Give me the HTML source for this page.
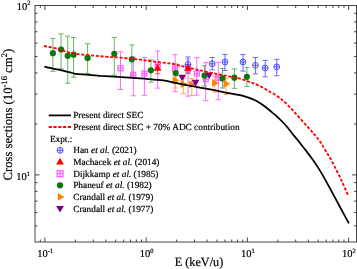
<!DOCTYPE html>
<html><head><meta charset="utf-8"><style>
html,body{margin:0;padding:0;background:#fff;}
body{width:357px;height:269px;overflow:hidden;}
text{stroke:#000;stroke-width:0.2px;}
svg{display:block;font-family:"Liberation Serif", serif;-webkit-font-smoothing:antialiased;text-rendering:geometricPrecision;}
.wrap{will-change:transform;transform:translateZ(0);}
</style></head><body>
<div class="wrap"><svg width="357" height="269" viewBox="0 0 357 269" font-family='"Liberation Serif", serif'>
<path d="M40.30 242.0v-2.5M40.30 5.5v2.5M44.93 242.0v-4.5M44.93 5.5v4.5M75.40 242.0v-2.5M75.40 5.5v2.5M93.23 242.0v-2.5M93.23 5.5v2.5M105.88 242.0v-2.5M105.88 5.5v2.5M115.69 242.0v-2.5M115.69 5.5v2.5M123.70 242.0v-2.5M123.70 5.5v2.5M130.48 242.0v-2.5M130.48 5.5v2.5M136.35 242.0v-2.5M136.35 5.5v2.5M141.53 242.0v-2.5M141.53 5.5v2.5M146.16 242.0v-4.5M146.16 5.5v4.5M176.63 242.0v-2.5M176.63 5.5v2.5M194.46 242.0v-2.5M194.46 5.5v2.5M207.11 242.0v-2.5M207.11 5.5v2.5M216.92 242.0v-2.5M216.92 5.5v2.5M224.93 242.0v-2.5M224.93 5.5v2.5M231.71 242.0v-2.5M231.71 5.5v2.5M237.58 242.0v-2.5M237.58 5.5v2.5M242.76 242.0v-2.5M242.76 5.5v2.5M247.39 242.0v-4.5M247.39 5.5v4.5M277.86 242.0v-2.5M277.86 5.5v2.5M295.69 242.0v-2.5M295.69 5.5v2.5M308.34 242.0v-2.5M308.34 5.5v2.5M318.15 242.0v-2.5M318.15 5.5v2.5M326.16 242.0v-2.5M326.16 5.5v2.5M332.94 242.0v-2.5M332.94 5.5v2.5M338.81 242.0v-2.5M338.81 5.5v2.5M343.99 242.0v-2.5M343.99 5.5v2.5M348.62 242.0v-4.5M348.62 5.5v4.5M35.0 225.89h2.5M356.5 225.89h-2.5M35.0 212.48h2.5M356.5 212.48h-2.5M35.0 201.14h2.5M356.5 201.14h-2.5M35.0 191.32h2.5M356.5 191.32h-2.5M35.0 182.65h2.5M356.5 182.65h-2.5M35.0 174.90h4.5M356.5 174.90h-4.5M35.0 123.91h2.5M356.5 123.91h-2.5M35.0 94.08h2.5M356.5 94.08h-2.5M35.0 72.91h2.5M356.5 72.91h-2.5M35.0 56.49h2.5M356.5 56.49h-2.5M35.0 43.08h2.5M356.5 43.08h-2.5M35.0 31.74h2.5M356.5 31.74h-2.5M35.0 21.92h2.5M356.5 21.92h-2.5M35.0 13.25h2.5M356.5 13.25h-2.5" stroke="#444" stroke-width="1" fill="none"/>
<rect x="35.0" y="5.5" width="321.5" height="236.5" fill="none" stroke="#444" stroke-width="1"/>
<path d="M52.9 38.4V71.3M50.3 38.4h5.2M50.3 71.3h5.2" stroke="#62b862" stroke-width="1" fill="none"/>
<path d="M61.1 33.9V68.8M58.5 33.9h5.2M58.5 68.8h5.2" stroke="#62b862" stroke-width="1" fill="none"/>
<path d="M67.7 36.2V83.2M65.1 36.2h5.2M65.1 83.2h5.2" stroke="#62b862" stroke-width="1" fill="none"/>
<path d="M73.6 37.5V77.2M71.0 37.5h5.2M71.0 77.2h5.2" stroke="#62b862" stroke-width="1" fill="none"/>
<path d="M87.6 43.8V73.5M85.0 43.8h5.2M85.0 73.5h5.2" stroke="#62b862" stroke-width="1" fill="none"/>
<path d="M114.3 37.4V75.2M111.7 37.4h5.2M111.7 75.2h5.2" stroke="#62b862" stroke-width="1" fill="none"/>
<path d="M131.9 44.9V76.8M129.3 44.9h5.2M129.3 76.8h5.2" stroke="#62b862" stroke-width="1" fill="none"/>
<path d="M150.9 59.9V82.2M148.3 59.9h5.2M148.3 82.2h5.2" stroke="#62b862" stroke-width="1" fill="none"/>
<path d="M175.7 64.0V82.5M173.1 64.0h5.2M173.1 82.5h5.2" stroke="#62b862" stroke-width="1" fill="none"/>
<path d="M204.5 65.7V86.0M201.9 65.7h5.2M201.9 86.0h5.2" stroke="#62b862" stroke-width="1" fill="none"/>
<path d="M222.5 68.5V88.0M219.9 68.5h5.2M219.9 88.0h5.2" stroke="#62b862" stroke-width="1" fill="none"/>
<path d="M234.4 68.9V88.3M231.8 68.9h5.2M231.8 88.3h5.2" stroke="#62b862" stroke-width="1" fill="none"/>
<path d="M246.9 67.5V86.5M244.3 67.5h5.2M244.3 86.5h5.2" stroke="#62b862" stroke-width="1" fill="none"/>
<path d="M120.5 51.9V89.5M117.9 51.9h5.2M117.9 89.5h5.2" stroke="#ff6aff" stroke-width="1" fill="none"/>
<path d="M133.3 57.0V95.8M130.7 57.0h5.2M130.7 95.8h5.2" stroke="#ff6aff" stroke-width="1" fill="none"/>
<path d="M144.4 57.4V95.3M141.8 57.4h5.2M141.8 95.3h5.2" stroke="#ff6aff" stroke-width="1" fill="none"/>
<path d="M157.7 51.0V88.1M155.1 51.0h5.2M155.1 88.1h5.2" stroke="#ff6aff" stroke-width="1" fill="none"/>
<path d="M175.1 54.7V91.7M172.5 54.7h5.2M172.5 91.7h5.2" stroke="#ff6aff" stroke-width="1" fill="none"/>
<path d="M188.0 59.0V96.1M185.4 59.0h5.2M185.4 96.1h5.2" stroke="#ff6aff" stroke-width="1" fill="none"/>
<path d="M196.8 57.6V95.2M194.2 57.6h5.2M194.2 95.2h5.2" stroke="#ff6aff" stroke-width="1" fill="none"/>
<path d="M205.7 62.6V100.6M203.1 62.6h5.2M203.1 100.6h5.2" stroke="#ff6aff" stroke-width="1" fill="none"/>
<path d="M218.3 62.3V99.7M215.7 62.3h5.2M215.7 99.7h5.2" stroke="#ff6aff" stroke-width="1" fill="none"/>
<path d="M175.3 76.0V88.0M172.7 76.0h5.2M172.7 88.0h5.2" stroke="#ffad5c" stroke-width="1" fill="none"/>
<path d="M183.4 78.0V93.8M180.8 78.0h5.2M180.8 93.8h5.2" stroke="#ffad5c" stroke-width="1" fill="none"/>
<path d="M191.8 78.5V95.5M189.2 78.5h5.2M189.2 95.5h5.2" stroke="#ffad5c" stroke-width="1" fill="none"/>
<path d="M214.8 76.4V92.0M212.2 76.4h5.2M212.2 92.0h5.2" stroke="#ffad5c" stroke-width="1" fill="none"/>
<path d="M226.2 78.6V94.5M223.6 78.6h5.2M223.6 94.5h5.2" stroke="#ffad5c" stroke-width="1" fill="none"/>
<path d="M188.0 57.0V72.2M185.4 57.0h5.2M185.4 72.2h5.2" stroke="#6a6aff" stroke-width="1" fill="none"/>
<path d="M212.2 57.5V69.9M209.6 57.5h5.2M209.6 69.9h5.2" stroke="#6a6aff" stroke-width="1" fill="none"/>
<path d="M225.0 54.4V70.5M222.4 54.4h5.2M222.4 70.5h5.2" stroke="#6a6aff" stroke-width="1" fill="none"/>
<path d="M243.0 54.6V71.1M240.4 54.6h5.2M240.4 71.1h5.2" stroke="#6a6aff" stroke-width="1" fill="none"/>
<path d="M255.4 57.5V73.9M252.8 57.5h5.2M252.8 73.9h5.2" stroke="#6a6aff" stroke-width="1" fill="none"/>
<path d="M265.2 60.4V76.9M262.6 60.4h5.2M262.6 76.9h5.2" stroke="#6a6aff" stroke-width="1" fill="none"/>
<path d="M276.8 59.3V75.7M274.2 59.3h5.2M274.2 75.7h5.2" stroke="#6a6aff" stroke-width="1" fill="none"/>
<path d="M157.6 64.5V73.7M155.0 64.5h5.2M155.0 73.7h5.2" stroke="#ff5050" stroke-width="1" fill="none"/>
<path d="M188.0 66.0V73.4M185.4 66.0h5.2M185.4 73.4h5.2" stroke="#ff5050" stroke-width="1" fill="none"/>
<g stroke="#ff50ff" fill="none" stroke-width="1.1"><rect x="118.0" y="65.8" width="5.0" height="5.0"/><path d="M118.0 68.3h5.0M120.5 65.8v5.0"/></g>
<g stroke="#ff50ff" fill="none" stroke-width="1.1"><rect x="130.8" y="72.2" width="5.0" height="5.0"/><path d="M130.8 74.7h5.0M133.3 72.2v5.0"/></g>
<g stroke="#ff50ff" fill="none" stroke-width="1.1"><rect x="141.9" y="71.1" width="5.0" height="5.0"/><path d="M141.9 73.6h5.0M144.4 71.1v5.0"/></g>
<g stroke="#ff50ff" fill="none" stroke-width="1.1"><rect x="155.2" y="62.9" width="5.0" height="5.0"/><path d="M155.2 65.4h5.0M157.7 62.9v5.0"/></g>
<g stroke="#ff50ff" fill="none" stroke-width="1.1"><rect x="172.6" y="66.3" width="5.0" height="5.0"/><path d="M172.6 68.8h5.0M175.1 66.3v5.0"/></g>
<g stroke="#ff50ff" fill="none" stroke-width="1.1"><rect x="185.5" y="66.1" width="5.0" height="5.0"/><path d="M185.5 68.6h5.0M188.0 66.1v5.0"/></g>
<g stroke="#ff50ff" fill="none" stroke-width="1.1"><rect x="194.3" y="71.0" width="5.0" height="5.0"/><path d="M194.3 73.5h5.0M196.8 71.0v5.0"/></g>
<g stroke="#ff50ff" fill="none" stroke-width="1.1"><rect x="203.2" y="76.8" width="5.0" height="5.0"/><path d="M203.2 79.3h5.0M205.7 76.8v5.0"/></g>
<g stroke="#ff50ff" fill="none" stroke-width="1.1"><rect x="215.8" y="75.3" width="5.0" height="5.0"/><path d="M215.8 77.8h5.0M218.3 75.3v5.0"/></g>
<circle cx="52.9" cy="53.2" r="3.1" fill="#0a780a"/>
<circle cx="61.1" cy="49.5" r="3.1" fill="#0a780a"/>
<circle cx="67.7" cy="55.8" r="3.1" fill="#0a780a"/>
<circle cx="73.6" cy="54.7" r="3.1" fill="#0a780a"/>
<circle cx="87.6" cy="57.9" r="3.1" fill="#0a780a"/>
<circle cx="114.3" cy="53.8" r="3.1" fill="#0a780a"/>
<circle cx="131.9" cy="59.3" r="3.1" fill="#0a780a"/>
<circle cx="150.9" cy="70.3" r="3.1" fill="#0a780a"/>
<circle cx="175.7" cy="73.1" r="3.1" fill="#0a780a"/>
<circle cx="204.5" cy="75.5" r="3.1" fill="#0a780a"/>
<circle cx="222.5" cy="78.4" r="3.1" fill="#0a780a"/>
<circle cx="234.4" cy="77.7" r="3.1" fill="#0a780a"/>
<circle cx="246.9" cy="76.8" r="3.1" fill="#0a780a"/>
<g stroke="#5050ff" fill="none" stroke-width="1"><circle cx="188.0" cy="64.4" r="2.9"/><path d="M185.1 64.4h5.8M188.0 61.5v5.8"/></g>
<g stroke="#5050ff" fill="none" stroke-width="1"><circle cx="212.2" cy="63.8" r="2.9"/><path d="M209.3 63.8h5.8M212.2 60.9v5.8"/></g>
<g stroke="#5050ff" fill="none" stroke-width="1"><circle cx="225.0" cy="62.0" r="2.9"/><path d="M222.1 62.0h5.8M225.0 59.1v5.8"/></g>
<g stroke="#5050ff" fill="none" stroke-width="1"><circle cx="243.0" cy="62.0" r="2.9"/><path d="M240.1 62.0h5.8M243.0 59.1v5.8"/></g>
<g stroke="#5050ff" fill="none" stroke-width="1"><circle cx="255.4" cy="65.3" r="2.9"/><path d="M252.5 65.3h5.8M255.4 62.4v5.8"/></g>
<g stroke="#5050ff" fill="none" stroke-width="1"><circle cx="265.2" cy="68.0" r="2.9"/><path d="M262.3 68.0h5.8M265.2 65.1v5.8"/></g>
<g stroke="#5050ff" fill="none" stroke-width="1"><circle cx="276.8" cy="66.8" r="2.9"/><path d="M273.9 66.8h5.8M276.8 63.9v5.8"/></g>
<path d="M172.6 76.4L179.3 80.3L172.6 84.2Z" fill="#ff8000"/>
<path d="M180.7 80.3L187.4 84.2L180.7 88.1Z" fill="#ff8000"/>
<path d="M189.1 80.5L195.8 84.4L189.1 88.3Z" fill="#ff8000"/>
<path d="M212.1 79.1L218.8 83.0L212.1 86.9Z" fill="#ff8000"/>
<path d="M223.5 79.9L230.2 83.8L223.5 87.7Z" fill="#ff8000"/>
<path d="M178.3 74.7H186.1L182.2 81.3Z" fill="#800080"/>
<path d="M191.6 79.8H199.4L195.5 86.4Z" fill="#800080"/>
<path d="M205.3 72.5H213.1L209.2 79.1Z" fill="#800080"/>
<path d="M157.6 64.0L161.5 70.7H153.7Z" fill="#ff0000"/>
<path d="M188.0 64.1L191.9 70.8H184.1Z" fill="#ff0000"/>
<path d="M44.40 66.70C46.80 67.20 54.15 68.65 58.80 69.70C63.45 70.75 69.50 72.32 72.30 73.00C75.10 73.68 72.82 73.50 75.60 73.80C78.38 74.10 84.60 74.43 89.00 74.80C93.40 75.17 98.50 75.75 102.00 76.00C105.50 76.25 103.67 75.90 110.00 76.30C116.33 76.70 133.33 77.92 140.00 78.40C146.67 78.88 145.83 78.83 150.00 79.20C154.17 79.57 161.00 80.03 165.00 80.60C169.00 81.17 170.67 81.90 174.00 82.60C177.33 83.30 181.50 84.12 185.00 84.80C188.50 85.48 190.53 85.88 195.00 86.70C199.47 87.52 206.20 88.63 211.80 89.70C217.40 90.77 223.90 92.20 228.60 93.10C233.30 94.00 237.33 94.57 240.00 95.10C242.67 95.63 243.05 95.83 244.60 96.30C246.15 96.77 247.75 97.32 249.30 97.90C250.85 98.48 252.35 99.08 253.90 99.80C255.45 100.52 257.05 101.28 258.60 102.20C260.15 103.12 261.63 104.17 263.20 105.30C264.77 106.43 266.53 107.83 268.00 109.00C269.47 110.17 270.67 111.20 272.00 112.30C273.33 113.40 274.40 114.15 276.00 115.60C277.60 117.05 279.73 119.10 281.60 121.00C283.47 122.90 285.47 124.97 287.20 127.00C288.93 129.03 290.30 131.08 292.00 133.20C293.70 135.32 295.25 137.02 297.40 139.70C299.55 142.38 302.42 146.08 304.90 149.30C307.38 152.52 310.07 155.90 312.30 159.00C314.53 162.10 316.55 165.17 318.30 167.90C320.05 170.63 320.75 171.80 322.80 175.40C324.85 179.00 328.00 184.73 330.60 189.50C333.20 194.27 335.35 198.35 338.40 204.00C341.45 209.65 347.15 220.17 348.90 223.40" fill="none" stroke="#000" stroke-width="1.75" stroke-linejoin="round"/>
<path d="M44.00 46.00C46.00 46.40 52.77 47.58 56.00 48.40C59.23 49.22 59.93 49.98 63.40 50.90C66.87 51.82 71.77 53.12 76.80 53.90C81.83 54.68 88.57 55.12 93.60 55.60C98.63 56.08 102.60 56.47 107.00 56.80C111.40 57.13 114.50 57.13 120.00 57.60C125.50 58.07 135.00 59.03 140.00 59.60C145.00 60.17 146.57 60.55 150.00 61.00C153.43 61.45 157.25 61.90 160.60 62.30C163.95 62.70 167.03 62.90 170.10 63.40C173.17 63.90 176.58 64.73 179.00 65.30C181.42 65.87 181.60 66.08 184.60 66.80C187.60 67.52 194.20 68.97 197.00 69.60C199.80 70.23 198.57 69.97 201.40 70.60C204.23 71.23 209.57 72.47 214.00 73.40C218.43 74.33 223.67 75.32 228.00 76.20C232.33 77.08 236.13 77.65 240.00 78.70C243.87 79.75 248.40 81.52 251.20 82.50C254.00 83.48 254.93 83.78 256.80 84.60C258.67 85.42 260.53 86.38 262.40 87.40C264.27 88.42 266.13 89.63 268.00 90.70C269.87 91.77 271.73 92.67 273.60 93.80C275.47 94.93 277.57 96.32 279.20 97.50C280.83 98.68 281.32 98.95 283.40 100.90C285.48 102.85 288.92 106.27 291.70 109.20C294.48 112.13 297.30 115.42 300.10 118.50C302.90 121.58 306.13 125.05 308.50 127.70C310.87 130.35 312.38 132.10 314.30 134.40C316.22 136.70 318.13 138.82 320.00 141.50C321.87 144.18 323.52 147.20 325.50 150.50C327.48 153.80 329.32 156.47 331.90 161.30C334.48 166.13 338.35 173.92 341.00 179.50C343.65 185.08 346.67 192.25 347.80 194.80" fill="none" stroke="#ff0000" stroke-width="1.8" stroke-dasharray="3.1 1.7"/>
<path d="M48.7 115.4H71" stroke="#000" stroke-width="1.75"/>
<path d="M48.7 127.0H71" stroke="#f00" stroke-width="1.8" stroke-dasharray="3.1 1.7"/>
<g stroke="#5050ff" fill="none" stroke-width="1"><circle cx="60.1" cy="150.3" r="3.0"/><path d="M57.1 150.3h6.0M60.1 147.3v6.0"/></g>
<path d="M60.0 157.7L63.9 164.4H56.1Z" fill="#ff0000"/>
<g stroke="#ff50ff" fill="none" stroke-width="1.1"><rect x="57.1" y="170.7" width="6.0" height="6.0"/><path d="M57.1 173.7h6.0M60.1 170.7v6.0"/></g>
<circle cx="60.0" cy="185.3" r="3.15" fill="#0a780a"/>
<path d="M57.8 193.0L64.5 196.9L57.8 200.8Z" fill="#ff8000"/>
<path d="M56.1 205.9H63.9L60.0 212.5Z" fill="#800080"/>
<text x="73.2" y="118.4" font-size="9.3">Present direct SEC</text>
<text x="73.2" y="130.1" font-size="9.3">Present direct SEC + 70% ADC contribution</text>
<text x="49.9" y="141.7" font-size="9.3">Expt.:</text>
<text x="73.2" y="153.4" font-size="9.3">Han <tspan font-style="italic">et al.</tspan> (2021)</text>
<text x="73.2" y="165.0" font-size="9.3">Machacek <tspan font-style="italic">et al.</tspan> (2014)</text>
<text x="73.2" y="176.7" font-size="9.3">Dijkkamp <tspan font-style="italic">et al.</tspan> (1985)</text>
<text x="73.2" y="188.3" font-size="9.3">Phaneuf <tspan font-style="italic">et al.</tspan> (1982)</text>
<text x="73.2" y="199.9" font-size="9.3">Crandall <tspan font-style="italic">et al.</tspan> (1979)</text>
<text x="73.2" y="211.6" font-size="9.3">Crandall <tspan font-style="italic">et al.</tspan> (1977)</text>
<text x="45.1" y="257.3" font-size="10.5" text-anchor="middle">10<tspan font-size="6.5" dy="-4.2">-1</tspan></text>
<text x="146.6" y="257.3" font-size="10.5" text-anchor="middle">10<tspan font-size="6.5" dy="-4.2">0</tspan></text>
<text x="247.8" y="257.3" font-size="10.5" text-anchor="middle">10<tspan font-size="6.5" dy="-4.2">1</tspan></text>
<text x="348.8" y="257.3" font-size="10.5" text-anchor="middle">10<tspan font-size="6.5" dy="-4.2">2</tspan></text>
<text x="30.4" y="9.5" font-size="10.5" text-anchor="end">10<tspan font-size="6.5" dy="-4.2">2</tspan></text>
<text x="30.0" y="179.8" font-size="10.5" text-anchor="end">10<tspan font-size="6.5" dy="-4.2">1</tspan></text>
<text transform="translate(199 266.4) scale(1 1.04)" x="0" y="0" font-size="12.2" text-anchor="middle">E (keV/u)</text>
<text transform="translate(11.6 114.7) rotate(-90)" x="0" y="0" font-size="12.7" text-anchor="middle">Cross sections (10<tspan font-size="8.6" dy="-4.9">-16</tspan><tspan dy="4.9"> cm</tspan><tspan font-size="8.6" dy="-4.9">2</tspan><tspan dy="4.9">)</tspan></text>
</svg></div>
</body></html>
